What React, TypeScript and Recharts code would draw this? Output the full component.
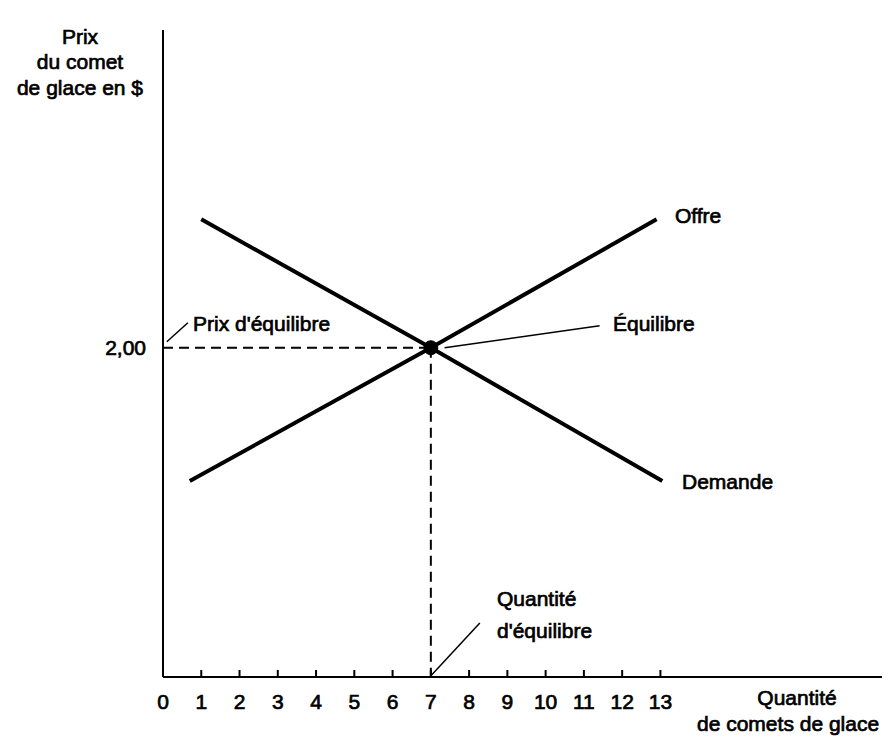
import React from 'react';
import {
  ComposedChart, Line, XAxis, YAxis, ReferenceLine, ReferenceDot,
} from 'recharts';

// Quantities (x) and prices (y)
const offreQ = [0.7, 7, 12.9];
const offreP = [1.19, 2.0, 2.78];
const demandeQ = [1, 7, 13.05];
const demandeP = [2.78, 2.0, 1.19];
const xTicks = [0, 1, 2, 3, 4, 5, 6, 7, 8, 9, 10, 11, 12, 13];
const yTicks = [2];
const equilibreQ = 7;
const equilibreP = 2.0;

const offre = offreQ.map((q, i) => ({ q, p: offreP[i] }));
const demande = demandeQ.map((q, i) => ({ q, p: demandeP[i] }));

const FONT = '"Liberation Sans", Arial, Helvetica, sans-serif';
const W = 882;
const H = 720;

const XTick = (props: any) => {
  const { x, y, payload } = props;
  return (
    <g>
      {payload.value !== 0 && (
        <line x1={x} y1={y} x2={x} y2={y - 7} stroke="#000" strokeWidth={2} />
      )}
      <text x={x} y={y + 24} textAnchor="middle" dominantBaseline="central"
        fontFamily={FONT} fontSize={21} fill="#000" stroke="#000" strokeWidth={0.7}>
        {payload.value}
      </text>
    </g>
  );
};

const Txt = ({ x, y, center, children }: any) => (
  <div style={{
    position: 'absolute', left: x - 8, top: y - 8,
    transform: center ? 'translate(-50%, -50%)' : 'translate(0, -50%)',
    whiteSpace: 'nowrap', lineHeight: 1, fontFamily: FONT, fontSize: 21,
    color: '#000', WebkitTextStroke: '0.7px #000',
  }}>{children}</div>
);

export default function App() {
  return (
    <div style={{ position: 'relative', width: W, height: 728, background: '#fff' }}>
      <ComposedChart width={W} height={H} margin={{ top: 22, right: 0, left: 0, bottom: 0 }}>
        <XAxis type="number" dataKey="q" domain={[0, 19]} ticks={xTicks} allowDataOverflow
          axisLine={{ stroke: '#000', strokeWidth: 2 }} tickLine={false} tickSize={0} tickMargin={0}
          height={51} tick={<XTick />} interval={0} />
        <YAxis type="number" dataKey="p" domain={[0, 3.93]} ticks={yTicks} allowDataOverflow
          width={155} axisLine={{ stroke: '#000', strokeWidth: 2 }} tickLine={false} tickSize={0}
          tickMargin={17} tickFormatter={(v: number) => v.toFixed(2).replace('.', ',')}
          tick={{ fill: '#000', fontSize: 21, fontFamily: FONT, stroke: '#000', strokeWidth: 0.7 }} />
        <ReferenceLine segment={[{ x: 0, y: equilibreP }, { x: equilibreQ, y: equilibreP }]}
          stroke="#000" strokeWidth={2} strokeDasharray="10 6" />
        <ReferenceLine segment={[{ x: equilibreQ, y: equilibreP }, { x: equilibreQ, y: 0 }]}
          stroke="#000" strokeWidth={2} strokeDasharray="10 6" />
        <ReferenceLine segment={[{ x: 0.1, y: 2.036 }, { x: 0.65, y: 2.152 }]} stroke="#000" strokeWidth={1.5} />
        <ReferenceLine segment={[{ x: 7.36, y: 2.0 }, { x: 11.41, y: 2.134 }]} stroke="#000" strokeWidth={1.5} />
        <ReferenceLine segment={[{ x: 7.02, y: 0.012 }, { x: 8.28, y: 0.328 }]} stroke="#000" strokeWidth={1.5} />
        <Line data={offre} dataKey="p" stroke="#000" strokeWidth={4} dot={false} isAnimationActive={false} />
        <Line data={demande} dataKey="p" stroke="#000" strokeWidth={4} dot={false} isAnimationActive={false} />
        <ReferenceDot x={equilibreQ} y={equilibreP} r={7} fill="#000" stroke="#000" />
      </ComposedChart>
      <Txt x={80} y={36} center>Prix</Txt>
      <Txt x={80} y={61} center>du comet</Txt>
      <Txt x={80} y={87} center>de glace en $</Txt>
      <Txt x={193} y={323}>Prix d'équilibre</Txt>
      <Txt x={613} y={323}>Équilibre</Txt>
      <Txt x={675} y={215}>Offre</Txt>
      <Txt x={682} y={481}>Demande</Txt>
      <Txt x={497} y={598}>Quantité</Txt>
      <Txt x={497} y={630}>d'équilibre</Txt>
      <Txt x={797} y={697} center>Quantité</Txt>
      <Txt x={697} y={723}>de comets de glace</Txt>
    </div>
  );
}
